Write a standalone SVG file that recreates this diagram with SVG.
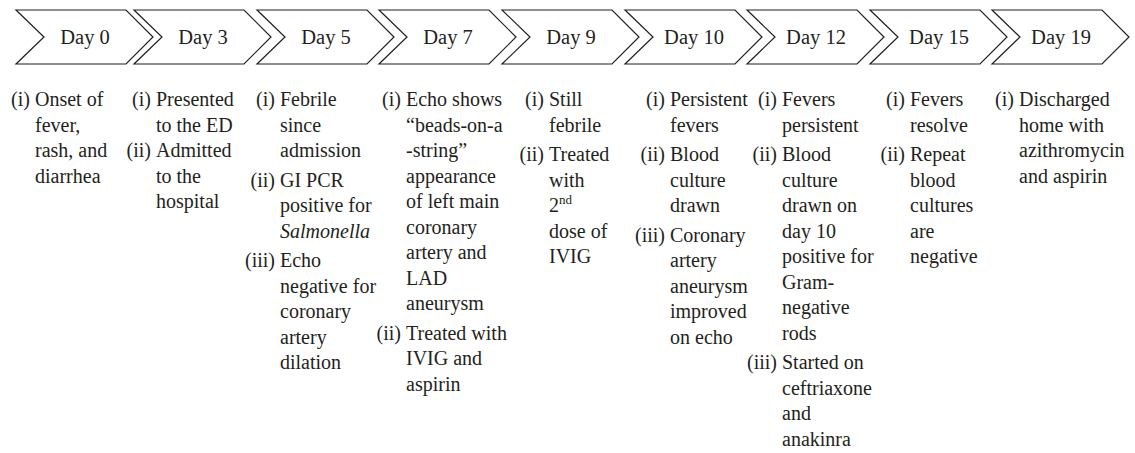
<svg xmlns="http://www.w3.org/2000/svg" width="1135" height="453" viewBox="0 0 1135 453">
<defs>
<style>
.chev{fill:#fff;stroke:#231f20;stroke-width:1.2;stroke-linejoin:miter}
.day{font-family:"Liberation Serif",serif;font-size:20.5px;fill:#231f20;text-anchor:middle}
.t{font-family:"Liberation Serif",serif;font-size:20px;fill:#231f20}
.l{font-family:"Liberation Serif",serif;font-size:20px;fill:#231f20;text-anchor:end}
.i{font-style:italic}
</style>
</defs>
<rect width="1135" height="453" fill="#fff"/>
<g id="day0"><path class="chev" d="M16,10 L126,10 L153,37 L126,64 L16,64 L44,37 Z"/><text class="day" x="85" y="44">Day 0</text>
<text class="l" x="30" y="106">(i)</text><text class="t" x="35" y="106">Onset of</text><text class="t" x="35" y="131.5">fever,</text><text class="t" x="35" y="157">rash, and</text><text class="t" x="35" y="182.5">diarrhea</text></g>
<g id="day3"><path class="chev" d="M134,10 L244,10 L271,37 L244,64 L134,64 L162,37 Z"/><text class="day" x="203" y="44">Day 3</text>
<text class="l" x="151" y="106">(i)</text><text class="t" x="156" y="106">Presented</text><text class="t" x="156" y="131.5">to the ED</text><text class="l" x="151" y="157">(ii)</text><text class="t" x="156" y="157">Admitted</text><text class="t" x="156" y="182.5">to the</text><text class="t" x="156" y="208">hospital</text></g>
<g id="day5"><path class="chev" d="M257,10 L367,10 L394,37 L367,64 L257,64 L285,37 Z"/><text class="day" x="326" y="44">Day 5</text>
<text class="l" x="275" y="106">(i)</text><text class="t" x="280" y="106">Febrile</text><text class="t" x="280" y="131.5">since</text><text class="t" x="280" y="157">admission</text>
<text class="l" x="275" y="186.5">(ii)</text><text class="t" x="280" y="186.5">GI PCR</text><text class="t" x="280" y="212">positive for</text><text class="t i" x="280" y="237.5">Salmonella</text>
<text class="l" x="275" y="267">(iii)</text><text class="t" x="280" y="267">Echo</text><text class="t" x="280" y="292.5">negative for</text><text class="t" x="280" y="318">coronary</text><text class="t" x="280" y="343.5">artery</text><text class="t" x="280" y="369">dilation</text></g>
<g id="day7"><path class="chev" d="M379,10 L489,10 L516,37 L489,64 L379,64 L407,37 Z"/><text class="day" x="448" y="44">Day 7</text>
<text class="l" x="401" y="106">(i)</text><text class="t" x="406" y="106">Echo shows</text><text class="t" x="406" y="131.5">“beads-on-a</text><text class="t" x="406" y="157">-string”</text><text class="t" x="406" y="182.5">appearance</text><text class="t" x="406" y="208">of left main</text><text class="t" x="406" y="233.5">coronary</text><text class="t" x="406" y="259">artery and</text><text class="t" x="406" y="284.5">LAD</text><text class="t" x="406" y="310">aneurysm</text>
<text class="l" x="401" y="339.5">(ii)</text><text class="t" x="406" y="339.5">Treated with</text><text class="t" x="406" y="365">IVIG and</text><text class="t" x="406" y="390.5">aspirin</text></g>
<g id="day9"><path class="chev" d="M502,10 L612,10 L639,37 L612,64 L502,64 L530,37 Z"/><text class="day" x="571" y="44">Day 9</text>
<text class="l" x="544" y="106">(i)</text><text class="t" x="549" y="106">Still</text><text class="t" x="549" y="131.5">febrile</text>
<text class="l" x="544" y="161">(ii)</text><text class="t" x="549" y="161">Treated</text><text class="t" x="549" y="186.5">with</text><text class="t" x="549" y="212">2<tspan font-size="13" dy="-8">nd</tspan></text><text class="t" x="549" y="237.5">dose of</text><text class="t" x="549" y="263">IVIG</text></g>
<g id="day10"><path class="chev" d="M625,10 L735,10 L762,37 L735,64 L625,64 L653,37 Z"/><text class="day" x="694" y="44">Day 10</text>
<text class="l" x="665" y="106">(i)</text><text class="t" x="670" y="106">Persistent</text><text class="t" x="670" y="131.5">fevers</text>
<text class="l" x="665" y="161">(ii)</text><text class="t" x="670" y="161">Blood</text><text class="t" x="670" y="186.5">culture</text><text class="t" x="670" y="212">drawn</text>
<text class="l" x="665" y="241.5">(iii)</text><text class="t" x="670" y="241.5">Coronary</text><text class="t" x="670" y="267">artery</text><text class="t" x="670" y="292.5">aneurysm</text><text class="t" x="670" y="318">improved</text><text class="t" x="670" y="343.5">on echo</text></g>
<g id="day12"><path class="chev" d="M747,10 L857,10 L884,37 L857,64 L747,64 L775,37 Z"/><text class="day" x="816" y="44">Day 12</text>
<text class="l" x="777" y="106">(i)</text><text class="t" x="782" y="106">Fevers</text><text class="t" x="782" y="131.5">persistent</text>
<text class="l" x="777" y="161">(ii)</text><text class="t" x="782" y="161">Blood</text><text class="t" x="782" y="186.5">culture</text><text class="t" x="782" y="212">drawn on</text><text class="t" x="782" y="237.5">day 10</text><text class="t" x="782" y="263">positive for</text><text class="t" x="782" y="288.5">Gram-</text><text class="t" x="782" y="314">negative</text><text class="t" x="782" y="339.5">rods</text>
<text class="l" x="777" y="369">(iii)</text><text class="t" x="782" y="369">Started on</text><text class="t" x="782" y="394.5">ceftriaxone</text><text class="t" x="782" y="420">and</text><text class="t" x="782" y="445.5">anakinra</text></g>
<g id="day15"><path class="chev" d="M870,10 L980,10 L1007,37 L980,64 L870,64 L898,37 Z"/><text class="day" x="939" y="44">Day 15</text>
<text class="l" x="905" y="106">(i)</text><text class="t" x="910" y="106">Fevers</text><text class="t" x="910" y="131.5">resolve</text>
<text class="l" x="905" y="161">(ii)</text><text class="t" x="910" y="161">Repeat</text><text class="t" x="910" y="186.5">blood</text><text class="t" x="910" y="212">cultures</text><text class="t" x="910" y="237.5">are</text><text class="t" x="910" y="263">negative</text></g>
<g id="day19"><path class="chev" d="M992,10 L1102,10 L1129,37 L1102,64 L992,64 L1020,37 Z"/><text class="day" x="1061" y="44">Day 19</text>
<text class="l" x="1014" y="106">(i)</text><text class="t" x="1019" y="106">Discharged</text><text class="t" x="1019" y="131.5">home with</text><text class="t" x="1019" y="157">azithromycin</text><text class="t" x="1019" y="182.5">and aspirin</text></g>
<g id="connectors"></g>
</svg>
